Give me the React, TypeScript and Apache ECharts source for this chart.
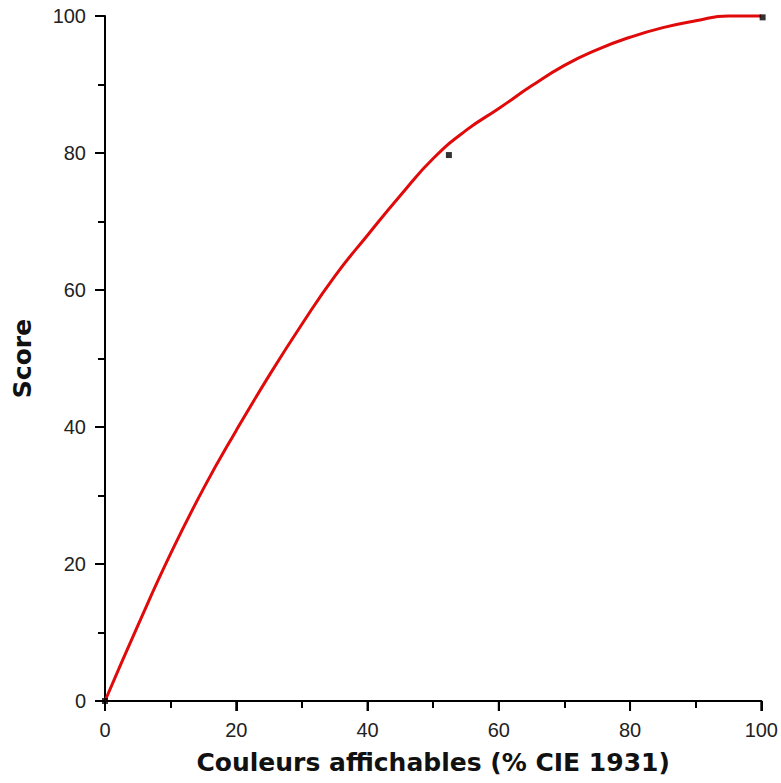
import React, { useEffect, useRef } from "react";
import * as echarts from "echarts";

const curveX = [0, 5, 10, 15, 20, 25, 30, 35, 40, 45, 50, 55, 60, 65, 70, 75, 80, 85, 90, 95, 100];
const curveY = [0, 11, 21.5, 31, 39.5, 47.5, 55, 62, 68, 73.8, 79.2, 83.3, 86.5, 89.8, 92.8, 95.1, 96.9, 98.3, 99.3, 100, 100];
const pointX = [0, 52.4, 100.2];
const pointY = [0, 79.7, 99.8];
const majorTicks = [0, 20, 40, 60, 80, 100];
const xTitle = "Couleurs affichables (% CIE 1931)";
const yTitle = "Score";

export default function App() {
  const ref = useRef<HTMLDivElement>(null);
  useEffect(() => {
    if (!ref.current) return;
    const chart = echarts.init(ref.current, null, { renderer: "svg" });
    const axisCommon = {
      type: "value",
      min: 0,
      max: 100,
      interval: 20,
      nameLocation: "middle",
      splitLine: { show: false },
      nameTextStyle: { fontFamily: "DejaVu Sans", fontWeight: "bold", fontSize: 25, color: "#111" },
      axisLine: { show: true, onZero: false, lineStyle: { color: "#000", width: 2 } },
      axisTick: { show: true, inside: false, length: 10, lineStyle: { color: "#000", width: 2 } },
      minorTick: { show: true, splitNumber: 2, length: 7, lineStyle: { color: "#000", width: 2 } },
      minorSplitLine: { show: false },
      axisLabel: { fontFamily: "Liberation Sans", fontSize: 20, color: "#222", margin: 19 },
    };
    chart.setOption({
      animation: false,
      backgroundColor: "#fff",
      grid: { left: 105, right: 15, top: 16, bottom: 82 },
      xAxis: { ...axisCommon, name: xTitle, nameGap: 49 },
      yAxis: { ...axisCommon, name: yTitle, nameGap: 70 },
      series: [
        {
          type: "line",
          data: curveX.map((x, i) => [x, curveY[i]]),
          smooth: 0.5,
          showSymbol: false,
          clip: false,
          lineStyle: { color: "#e00a0a", width: 3 },
          z: 2,
        },
        {
          type: "scatter",
          data: pointX.map((x, i) => [x, pointY[i]]),
          symbol: "rect",
          symbolSize: 6,
          clip: false,
          itemStyle: { color: "#000" },
          z: 3,
        },
      ],
    });
    // major ticks placed through the chart's own scales
    const tickStyle = { stroke: "#000", lineWidth: 2 };
    const ticks: any[] = [];
    majorTicks.forEach((v) => {
      const px = chart.convertToPixel({ gridIndex: 0 }, [v, 0]) as number[];
      const py = chart.convertToPixel({ gridIndex: 0 }, [0, v]) as number[];
      ticks.push({ type: "line", z: 100, shape: { x1: px[0], y1: px[1], x2: px[0], y2: px[1] + 10 }, style: tickStyle });
      ticks.push({ type: "line", z: 100, shape: { x1: py[0] - 10, y1: py[1], x2: py[0], y2: py[1] }, style: tickStyle });
    });
    chart.setOption({ graphic: ticks });
    return () => chart.dispose();
  }, []);
  return <div ref={ref} style={{ width: 781, height: 783, position: "absolute", left: 0, top: 0 }} />;
}
